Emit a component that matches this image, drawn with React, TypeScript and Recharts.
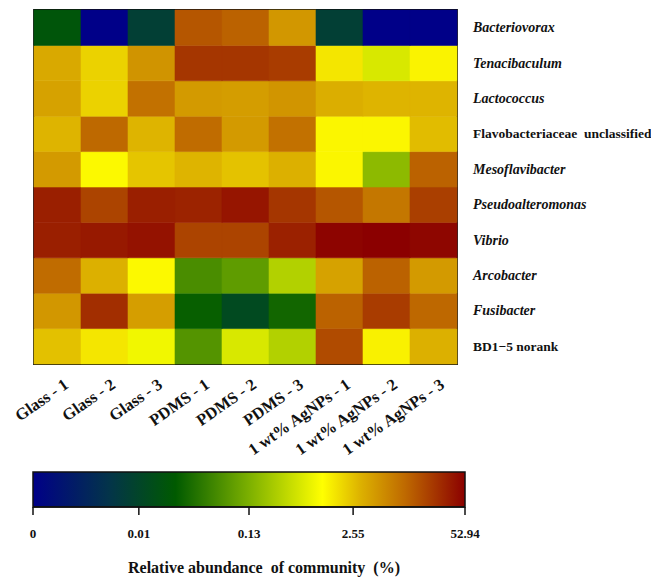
import { BarChart, Bar, Cell, XAxis, YAxis, ReferenceArea, Label } from 'recharts'

const SAMPLES = [
  'Glass - 1', 'Glass - 2', 'Glass - 3',
  'PDMS - 1', 'PDMS - 2', 'PDMS - 3',
  '1 wt% AgNPs - 1', '1 wt% AgNPs - 2', '1 wt% AgNPs - 3',
]

const GENERA = [
  'Bacteriovorax', 'Tenacibaculum', 'Lactococcus', 'Flavobacteriaceae  unclassified',
  'Mesoflavibacter', 'Pseudoalteromonas', 'Vibrio', 'Arcobacter', 'Fusibacter', 'BD1\u22125 norank',
]
const UPRIGHT = ['Flavobacteriaceae  unclassified', 'BD1\u22125 norank']

// relative abundance (%) per sample, same order as SAMPLES
const bacteriovorax = [0.019, 0, 0.0074, 14, 11.6, 4.8, 0.0074, 0, 0]
const tenacibaculum = [3.6, 2.0, 5.1, 23, 23, 20.8, 1.5, 0.57, 1.25]
const lactococcus = [4.0, 2.0, 9.2, 4.6, 4.4, 5.0, 3.3, 3.0, 3.0]
const flavobacteriaceae = [3.0, 10.5, 3.0, 10, 4.6, 9.2, 1.2, 1.2, 2.7]
const mesoflavibacter = [4.6, 1.15, 2.4, 3.0, 2.5, 3.2, 1.2, 0.17, 11.6]
const pseudoalteromonas = [33, 18.6, 33, 31, 38, 23, 14, 8.3, 20]
const vibrio = [33, 36, 40, 18.6, 18.6, 32, 50, 52.9, 48]
const arcobacter = [10, 3.2, 1.15, 0.065, 0.087, 0.31, 4.0, 11.6, 4.6]
const fusibacter = [4.8, 26, 4.3, 0.026, 0.012, 0.03, 11.6, 20.8, 10.6]
const bd15 = [2.55, 1.5, 0.85, 0.075, 0.57, 0.31, 16.5, 1.3, 3.2]

const VALUES = [
  bacteriovorax, tenacibaculum, lactococcus, flavobacteriaceae, mesoflavibacter,
  pseudoalteromonas, vibrio, arcobacter, fusibacter, bd15,
]

// colour bar ticks: value and position along the bar
const SCALE_VALUES = [0, 0.01, 0.13, 2.55, 52.94]
const SCALE_POS = [0, 0.245, 0.5, 0.741, 1]
const SCALE_LABELS = ['0', '0.01', '0.13', '2.55', '52.94']

const COLOR_STOPS: [number, string][] = [
  [0, '#000088'],
  [0.18, '#033548'],
  [0.33, '#005a00'],
  [0.5, '#7cb000'],
  [0.67, '#ffff00'],
  [0.76, '#dcb000'],
  [0.86, '#bf6a00'],
  [1, '#8b0000'],
]

const FONT = '"Liberation Serif", "Times New Roman", serif'

const hexToRgb = (h: string) => [1, 3, 5].map((i) => parseInt(h.slice(i, i + 2), 16))

function colorAt(t: number) {
  const c = Math.max(0, Math.min(1, t))
  for (let i = 1; i < COLOR_STOPS.length; i++) {
    const [t1, h1] = COLOR_STOPS[i]
    const [t0, h0] = COLOR_STOPS[i - 1]
    if (c <= t1) {
      const f = (c - t0) / (t1 - t0)
      const a = hexToRgb(h0)
      const b = hexToRgb(h1)
      const rgb = a.map((v, k) => Math.round(v + (b[k] - v) * f))
      return `rgb(${rgb.join(',')})`
    }
  }
  return COLOR_STOPS[COLOR_STOPS.length - 1][1]
}

// piecewise log scale between the colour bar ticks (0 treated as a small floor)
function valueToPos(v: number) {
  const logs = SCALE_VALUES.map((s) => Math.log10(Math.max(s, 0.0005)))
  const lv = Math.log10(Math.max(v, 0.0005))
  for (let i = 1; i < logs.length; i++) {
    if (lv <= logs[i]) {
      return SCALE_POS[i - 1] + ((lv - logs[i - 1]) / (logs[i] - logs[i - 1])) * (SCALE_POS[i] - SCALE_POS[i - 1])
    }
  }
  return 1
}

const data = SAMPLES.map((sample, i) => {
  const row: Record<string, any> = { sample }
  GENERA.forEach((g, j) => {
    row[g] = VALUES[j][i]
  })
  return row
})

const SampleTick = ({ x, y, payload }: any) => {
  const ax = x + 12
  const ay = y + 15
  return (
    <text
      x={ax}
      y={ay}
      textAnchor="end"
      transform={`rotate(-35, ${ax}, ${ay})`}
      fontFamily={FONT}
      fontWeight="bold"
      fontSize={16.5}
      fill="#111"
    >
      {payload.value}
    </text>
  )
}

const GenusTick = ({ x, y, payload }: any) => {
  const name = GENERA[Math.round(9.5 - payload.value)]
  return (
    <text
      x={x + 8}
      y={y}
      dominantBaseline="central"
      fontFamily={FONT}
      fontWeight="bold"
      fontStyle={UPRIGHT.includes(name) ? 'normal' : 'italic'}
      fontSize={UPRIGHT.includes(name) ? 13.5 : 14}
      fill="#111"
      style={{ whiteSpace: 'pre' }}
    >
      {name}
    </text>
  )
}

export default function App() {
  return (
    <div style={{ position: 'absolute', left: 0, top: 0, width: 651, height: 577, background: '#fff' }}>
      <div style={{ position: 'absolute', left: 0, top: 0 }}>
        <BarChart
          width={651}
          height={459}
          data={data}
          margin={{ top: 10, right: 14, left: 34, bottom: 0 }}
          barCategoryGap={0}
          barGap={0}
        >
          <XAxis
            dataKey="sample"
            type="category"
            height={95}
            interval={0}
            axisLine={false}
            tickLine={false}
            tick={<SampleTick />}
          />
          <YAxis
            type="number"
            orientation="right"
            domain={[0, 10]}
            ticks={[0.5, 1.5, 2.5, 3.5, 4.5, 5.5, 6.5, 7.5, 8.5, 9.5]}
            interval={0}
            width={180}
            axisLine={false}
            tickLine={false}
            tick={<GenusTick />}
          />
          {[...GENERA].reverse().map((g) => (
            <Bar key={g} dataKey={() => 1} stackId="heat" isAnimationActive={false}>
              {data.map((d, i) => {
                const fill = colorAt(valueToPos(d[g]))
                return <Cell key={i} fill={fill} stroke={fill} strokeWidth={0.6} />
              })}
            </Bar>
          ))}
          <ReferenceArea
            x1={SAMPLES[0]}
            x2={SAMPLES[SAMPLES.length - 1]}
            y1={0}
            y2={10}
            fill="none"
            stroke="#111"
            strokeWidth={1.8}
            ifOverflow="visible"
          />
        </BarChart>
      </div>
      <div style={{ position: 'absolute', left: 0, top: 462 }}>
        <BarChart
          width={651}
          height={115}
          layout="vertical"
          data={[{ name: 'scale', span: 1 }]}
          margin={{ top: 10, right: 186, left: 33, bottom: 10 }}
          barCategoryGap={0}
        >
          <defs>
            <linearGradient id="cbar" x1="0" y1="0" x2="1" y2="0">
              {COLOR_STOPS.map(([t, c]) => (
                <stop key={t} offset={t} stopColor={c} />
              ))}
            </linearGradient>
          </defs>
          <XAxis
            type="number"
            domain={[0, 1]}
            ticks={SCALE_POS}
            interval={0}
            height={60}
            tickSize={8}
            tickMargin={14}
            stroke="#111"
            strokeWidth={1.5}
            tick={{ fontFamily: FONT, fontWeight: 'bold', fontSize: 13, fill: '#111' }}
            tickFormatter={(v: number) => SCALE_LABELS[SCALE_POS.indexOf(v)]}
          >
            <Label
              value={'Relative abundance\u00a0 of community\u00a0 (%)'}
              position="insideBottom"
              offset={-6}
              dx={15}
              style={{ fontFamily: FONT, fontWeight: 'bold', fontSize: 16, fill: '#111' }}
            />
          </XAxis>
          <YAxis type="category" dataKey="name" hide />
          <Bar dataKey="span" fill="url(#cbar)" stroke="#111" strokeWidth={1.5} isAnimationActive={false} />
        </BarChart>
      </div>
    </div>
  )
}
